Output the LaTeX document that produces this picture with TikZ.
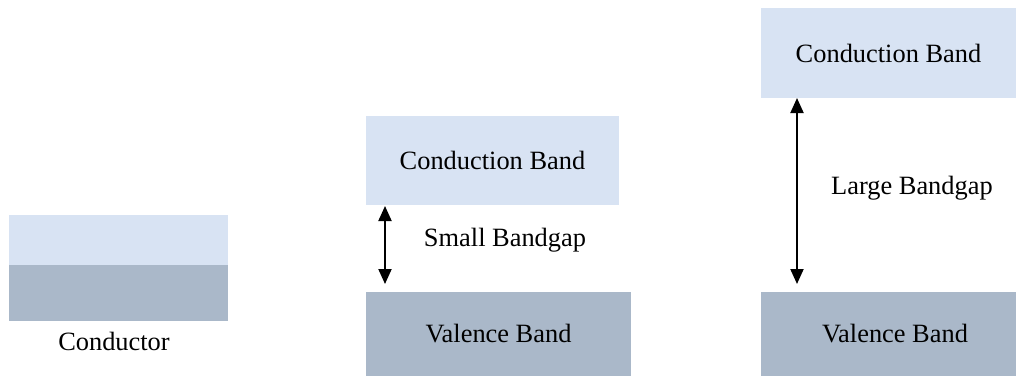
\documentclass[tikz,border=0pt]{standalone}
\usepackage{fontspec}
\setmainfont{Liberation Serif}
\usepackage{xcolor}
\usepackage{tikz}
\usetikzlibrary{arrows.meta}
\definecolor{bandLight}{HTML}{D8E3F3}
\definecolor{bandDark}{HTML}{AAB8C9}
\tikzset{
  condBand/.style={fill=bandLight, inner sep=0pt, text=black},
  valBand/.style={fill=bandDark, inner sep=0pt, text=black},
  gapArrow/.style={{Triangle[width=6.5pt,length=7.5pt]}-{Triangle[width=6.5pt,length=7.5pt]}, line width=1pt},
  bandText/.style={text=black, font=\fontsize{13.2}{16}\selectfont}
}

\begin{document}
\begin{tikzpicture}[x=0.5pt, y=-0.5pt, every node/.style={bandText}]
  \useasboundingbox (0,0) rectangle (1024,376);

  % conductor
  \node[condBand, minimum width=109.5pt, minimum height=25pt] (condL) at (118.5,240) {};
  \node[valBand, minimum width=109.5pt, minimum height=28pt] (valL) at (118.5,293) {};
  \node (condLabel) at (114,341) {Conductor};

  % small bandgap
  \node[condBand, minimum width=126.5pt, minimum height=44.5pt] (cbSmall) at (492.5,160.5) {Conduction Band};
  \node[valBand, minimum width=132.5pt, minimum height=42pt] (vbSmall) at (498.5,334) {\raisebox{-1.5pt}{Valence Band}};
  \coordinate (smallTop) at (385,206);
  \coordinate (smallBot) at (385,284);
  \draw[gapArrow] (smallTop) -- (smallBot);
  \node (smallLabel) at (505,240) {Small Bandgap};

  % large bandgap
  \node[condBand, minimum width=127.5pt, minimum height=45pt] (cbLarge) at (888.5,53) {Conduction Band};
  \node[valBand, minimum width=127.5pt, minimum height=42pt] (vbLarge) at (888.5,334) {\hspace{6.5pt}\raisebox{-1.5pt}{Valence Band}};
  \coordinate (largeTop) at (797,98);
  \coordinate (largeBot) at (797,284);
  \draw[gapArrow] (largeTop) -- (largeBot);
  \node (largeLabel) at (912,188) {Large Bandgap};
\end{tikzpicture}
\end{document}
